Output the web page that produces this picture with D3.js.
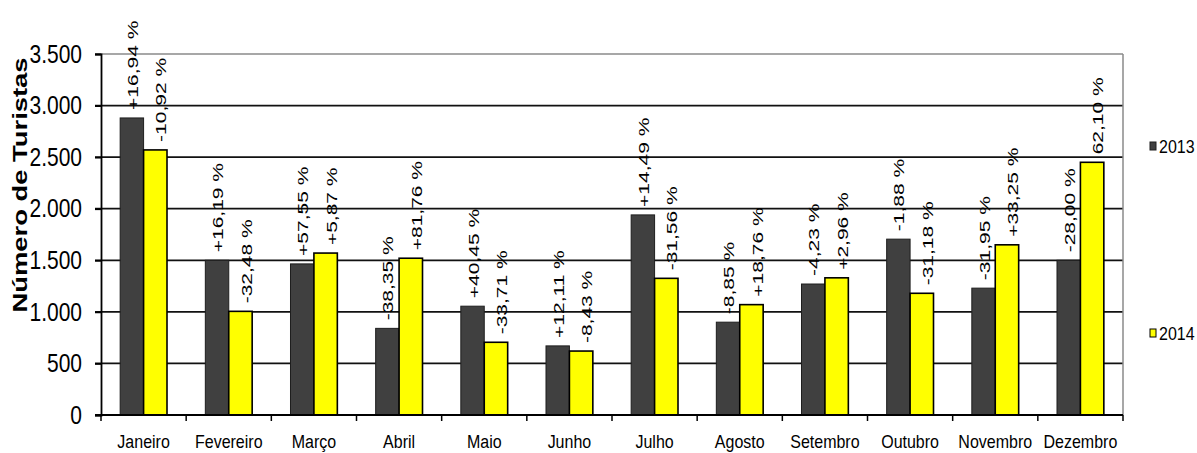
<!DOCTYPE html>
<html>
<head>
<meta charset="utf-8">
<script src="https://cdn.jsdelivr.net/npm/d3@7"></script>
<style>
body { margin: 0; background: #fff; }
text { font-family: "Liberation Sans", Arial, sans-serif; fill: #000; }
</style>
</head>
<body>
<svg></svg>
<script>
// data
var months = ["Janeiro", "Fevereiro", "Março", "Abril", "Maio", "Junho",
              "Julho", "Agosto", "Setembro", "Outubro", "Novembro", "Dezembro"];
var series = ["2013", "2014"];
var v2013 = [2880, 1500, 1465, 840, 1055, 670, 1940, 900, 1270, 1705, 1230, 1500];
var v2014 = [2570, 1005, 1570, 1520, 705, 620, 1325, 1070, 1330, 1180, 1650, 2450];
var lab2013 = ["+16,94 %", "+16,19 %", "+57,55 %", "-38,35 %", "+40,45 %", "+12,11 %",
               "+14,49 %", "-8,85 %", "-4,23 %", "-1,88 %", "-31,95 %", "-28,00 %"];
var lab2014 = ["-10,92 %", "-32,48 %", "+5,87 %", "+81,76 %", "-33,71 %", "-8,43 %",
               "-31,56 %", "+18,76 %", "+2,96 %", "-31,18 %", "+33,25 %", "62,10 %"];
var yTicks = [0, 500, 1000, 1500, 2000, 2500, 3000, 3500];

var width = 1197, height = 453;
var margin = {top: 54, right: 74, bottom: 38, left: 101};
var w = width - margin.left - margin.right;
var h = height - margin.top - margin.bottom;

var colors = {"2013": "#404040", "2014": "#ffff00"};
var strokes = {"2013": "#1e1e1e", "2014": "#000"};

var svg = d3.select("svg")
    .attr("width", width)
    .attr("height", height);

var g = svg.append("g")
    .attr("transform", "translate(" + margin.left + "," + margin.top + ")");

var x0 = d3.scaleBand().domain(months).range([0, w]);
var x1 = d3.scaleBand().domain(series)
    .range([x0.bandwidth() * 0.225, x0.bandwidth() * 0.775]);
var y = d3.scaleLinear().domain([0, 3500]).range([h, 0]);

var pt = d3.formatLocale({decimal: ",", thousands: ".", grouping: [3], currency: ["", ""]});
var fmt = pt.format(",d");

// grid lines (top one is the gray plot border)
g.selectAll(".grid")
  .data(yTicks.filter(function(d) { return d > 0; }))
  .enter().append("line")
    .attr("x1", -6)
    .attr("x2", w)
    .attr("y1", function(d) { return y(d); })
    .attr("y2", function(d) { return y(d); })
    .attr("stroke", function(d) { return d === 3500 ? "#8a8a8a" : "#111"; })
    .attr("stroke-width", function(d) { return d === 3500 ? 1.5 : 1.8; });

// right border
g.append("line")
    .attr("x1", w).attr("x2", w)
    .attr("y1", y(3500)).attr("y2", y(0))
    .attr("stroke", "#8a8a8a")
    .attr("stroke-width", 1.5);

// y axis
var yAxis = g.append("g")
    .call(d3.axisLeft(y).tickValues(yTicks).tickFormat(fmt).tickSize(6).tickPadding(13));
yAxis.select(".domain").attr("stroke", "#000").attr("stroke-width", 1.8);
yAxis.selectAll(".tick line").attr("stroke", "#000").attr("stroke-width", 1.8);
yAxis.selectAll("text")
    .attr("font-size", 21)
    .attr("font-family", "Liberation Sans, Arial, sans-serif")
    .attr("transform", "scale(1,1.22)");

// bars
var rows = months.map(function(m, i) {
  return {month: m, vals: [
    {s: "2013", v: v2013[i], lab: lab2013[i]},
    {s: "2014", v: v2014[i], lab: lab2014[i]}
  ]};
});

var grp = g.selectAll(".grp")
  .data(rows)
  .enter().append("g")
    .attr("transform", function(d) { return "translate(" + x0(d.month) + ",0)"; });

grp.selectAll("rect")
  .data(function(d) { return d.vals; })
  .enter().append("rect")
    .attr("x", function(d) { return x1(d.s); })
    .attr("width", x1.bandwidth())
    .attr("y", function(d) { return y(d.v); })
    .attr("height", function(d) { return h - y(d.v); })
    .attr("fill", function(d) { return colors[d.s]; })
    .attr("stroke", function(d) { return strokes[d.s]; })
    .attr("stroke-width", function(d) { return d.s === "2014" ? 1.6 : 1; });

// rotated change labels
grp.selectAll(".lab")
  .data(function(d) { return d.vals; })
  .enter().append("text")
    .attr("font-size", 14)
    .attr("dy", "0.36em")
    .attr("transform", function(d) {
      var cx = x1(d.s) + x1.bandwidth() / 2 + (d.s === "2014" ? 6 : 1);
      return "translate(" + cx + "," + (y(d.v) - 8) + ") rotate(-90) scale(1.5,1)";
    })
    .text(function(d) { return d.lab; });

// x axis
var xAxis = g.append("g")
    .attr("transform", "translate(0," + h + ")")
    .call(d3.axisBottom(x0).tickSize(0));
xAxis.select(".domain").remove();
xAxis.selectAll("text")
    .attr("font-size", 16)
    .attr("font-family", "Liberation Sans, Arial, sans-serif")
    .attr("y", 0)
    .attr("dy", 0)
    .attr("transform", "translate(0,33) scale(1,1.13)");

g.append("line")
    .attr("x1", -6).attr("x2", w)
    .attr("y1", h).attr("y2", h)
    .attr("stroke", "#000")
    .attr("stroke-width", 1.8);

g.selectAll(".xtick")
  .data(months.map(function(m) { return x0(m); }).concat([w]))
  .enter().append("line")
    .attr("x1", function(d) { return d; })
    .attr("x2", function(d) { return d; })
    .attr("y1", h)
    .attr("y2", h + 6)
    .attr("stroke", "#000")
    .attr("stroke-width", 1.5);

// y axis title
svg.append("text")
    .attr("font-size", 20)
    .attr("font-weight", "bold")
    .attr("text-anchor", "middle")
    .attr("dy", "0.36em")
    .attr("transform", "translate(20,185) rotate(-90) scale(1.37,1)")
    .text("Número de Turistas");

// legend
var legY = {"2013": 146, "2014": 333};
var leg = svg.selectAll(".leg")
  .data(series)
  .enter().append("g")
    .attr("transform", function(d) { return "translate(1150," + legY[d] + ")"; });
leg.append("rect")
    .attr("x", 0).attr("y", -4)
    .attr("width", 6).attr("height", 8)
    .attr("fill", function(d) { return colors[d]; })
    .attr("stroke", function(d) { return strokes[d]; })
    .attr("stroke-width", 1);
leg.append("text")
    .attr("x", 9)
    .attr("font-size", 16)
    .attr("transform", "scale(1,1.15)")
    .attr("dy", "0.36em")
    .text(function(d) { return d; });
</script>
</body>
</html>
